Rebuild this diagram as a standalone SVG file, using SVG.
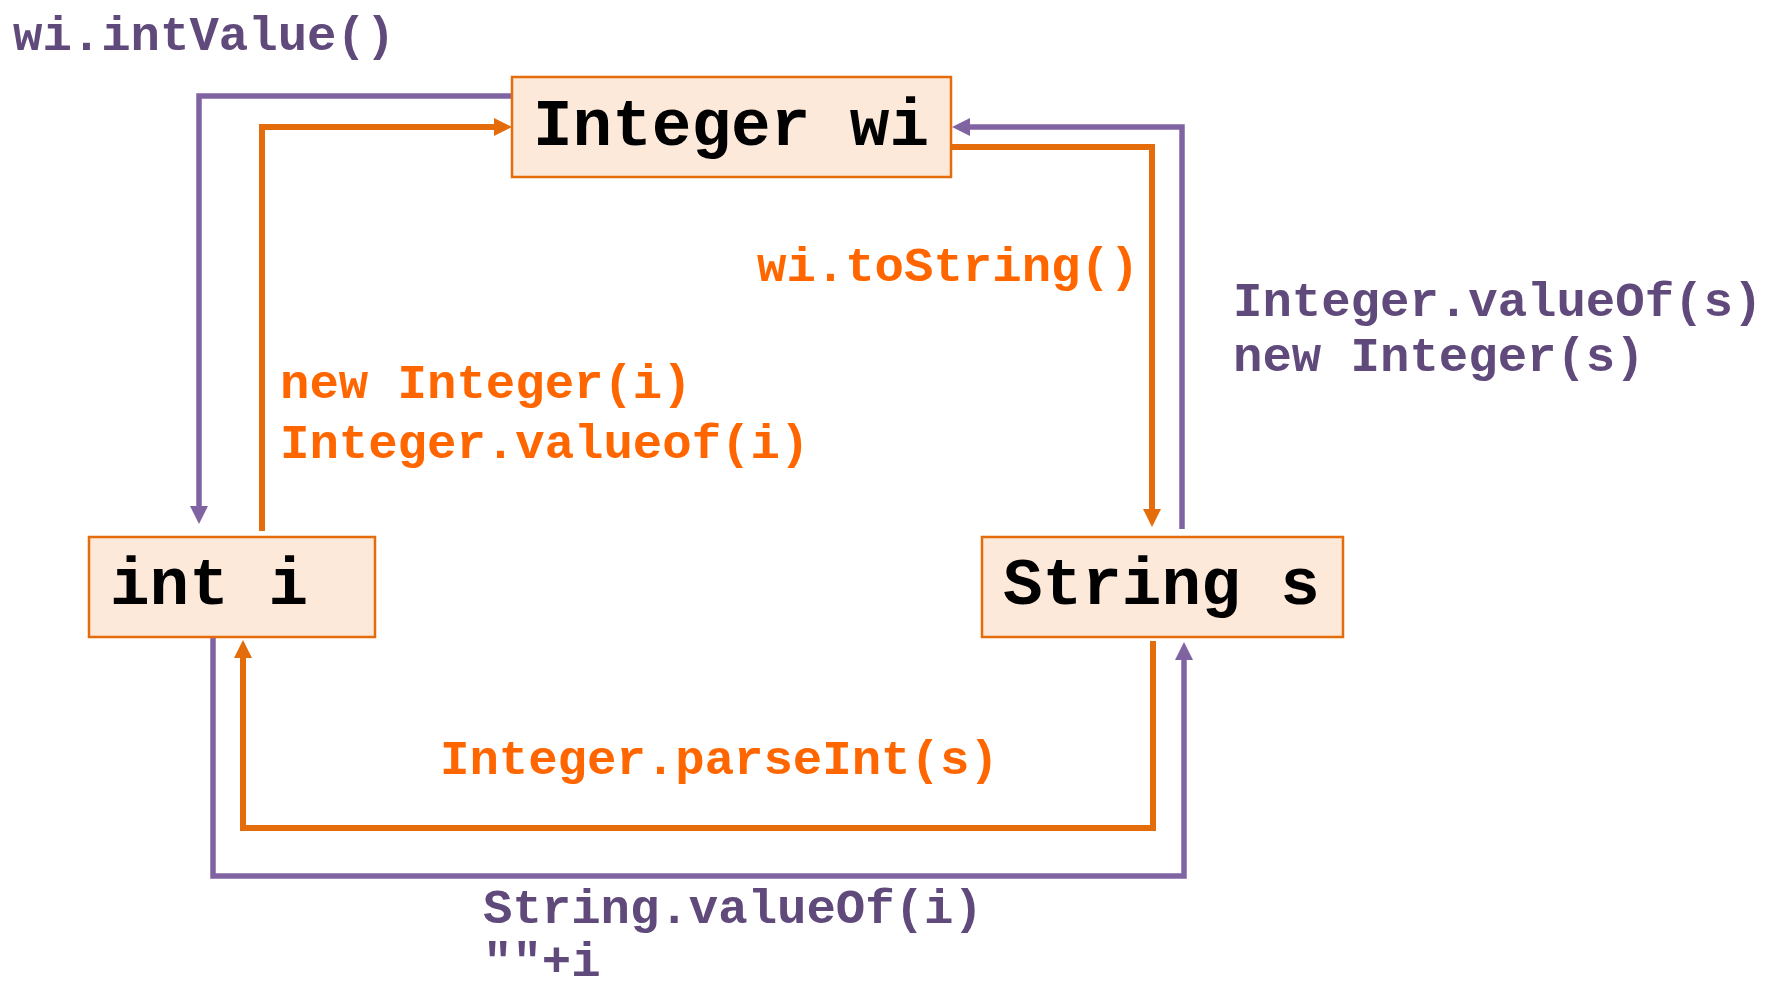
<svg xmlns="http://www.w3.org/2000/svg" width="1770" height="1000" viewBox="0 0 1770 1000">
  <style>
    .box { fill: #FDE9D9; stroke: #E46C0A; stroke-width: 2.5; }
    .node-text { font-family: "Liberation Mono", "Courier New", monospace; font-weight: bold; font-size: 66px; fill: #000000; }
    .lbl { font-family: "Liberation Mono", "Courier New", monospace; font-weight: bold; font-size: 49px; }
    .lbl-o { fill: #FF6600; }
    .lbl-p { fill: #604A7B; }
    .c-o { fill: none; stroke: #E46C0A; stroke-width: 6; }
    .c-p { fill: none; stroke: #8064A2; stroke-width: 5.5; }
  </style>
  <defs>
    <marker id="arrow-o" markerUnits="userSpaceOnUse" markerWidth="20" markerHeight="20" refX="1" refY="9" orient="auto" viewBox="0 0 20 18">
      <path d="M0,0 L18,9 L0,18 z" fill="#E46C0A"/>
    </marker>
    <marker id="arrow-p" markerUnits="userSpaceOnUse" markerWidth="20" markerHeight="20" refX="1" refY="9" orient="auto" viewBox="0 0 20 18">
      <path d="M0,0 L18,9 L0,18 z" fill="#8064A2"/>
    </marker>
  </defs>
  <rect width="1770" height="1000" fill="#FFFFFF"/>

  <g id="connectors">
    <path id="c-intValue" class="c-p" d="M512,96 H199 V507" marker-end="url(#arrow-p)"/>
    <path id="c-newInteger" class="c-o" d="M262,531 V127 H495" marker-end="url(#arrow-o)"/>
    <path id="c-toString" class="c-o" d="M948,147 H1152 V510" marker-end="url(#arrow-o)"/>
    <path id="c-valueOfS" class="c-p" d="M1182,529 V127 H969" marker-end="url(#arrow-p)"/>
    <path id="c-parseInt" class="c-o" d="M1153,641 V828 H243 V657" marker-end="url(#arrow-o)"/>
    <path id="c-stringValueOf" class="c-p" d="M213,637 V876 H1184 V659" marker-end="url(#arrow-p)"/>
  </g>

  <g id="node-integer">
    <rect class="box" x="512" y="77" width="439" height="100"/>
    <text class="node-text" x="533" y="145">Integer wi</text>
  </g>
  <g id="node-int">
    <rect class="box" x="89" y="537" width="286" height="100"/>
    <text class="node-text" x="110" y="604">int i</text>
  </g>
  <g id="node-string">
    <rect class="box" x="982" y="537" width="361" height="100"/>
    <text class="node-text" x="1003" y="604">String s</text>
  </g>

  <g id="labels">
    <text class="lbl lbl-p" x="13" y="50">wi.intValue()</text>
    <text class="lbl lbl-o" x="757" y="281">wi.toString()</text>
    <text class="lbl lbl-o" x="280" y="398">new Integer(i)</text>
    <text class="lbl lbl-o" x="280" y="458">Integer.valueof(i)</text>
    <text class="lbl lbl-p" x="1233" y="316">Integer.valueOf(s)</text>
    <text class="lbl lbl-p" x="1233" y="371">new Integer(s)</text>
    <text class="lbl lbl-o" x="440" y="774">Integer.parseInt(s)</text>
    <text class="lbl lbl-p" x="483" y="923">String.valueOf(i)</text>
    <text class="lbl lbl-p" x="483" y="976">""+i</text>
  </g>
</svg>
